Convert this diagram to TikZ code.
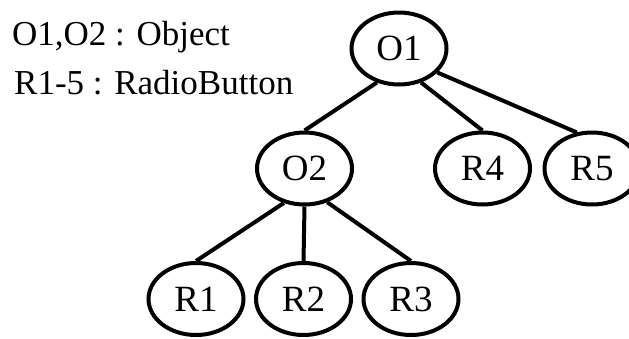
\documentclass[tikz,border=0pt]{standalone}
\usepackage{fontspec}
\setmainfont{Liberation Serif}
\usetikzlibrary{shapes.geometric}
\begin{document}
\begin{tikzpicture}[x=1pt,y=-1pt,
  treenode/.style={draw,ellipse,line width=4pt,minimum width=95pt,minimum height=72pt,inner sep=0pt,font=\fontsize{37}{42}\selectfont},
  legend/.style={anchor=base west,inner sep=0pt,font=\fontsize{35}{40}\selectfont},
  edge/.style={line width=4pt}]
  \useasboundingbox (0,0) rectangle (629,338);
  \begin{scope}
  \clip (0,0) rectangle (629,338);
  % legend
  \node[legend] (l1) at (12,45) {O1,O2 : Object};
  \node[legend] (l2) at (14,94) {R1-5 : RadioButton};
  % tree nodes
  \node[treenode] (o1) at (399,48.5) {O1};
  \node[treenode] (o2) at (304.5,168.5) {O2};
  \node[treenode] (r4) at (482.5,168.5) {R4};
  \node[treenode] (r5) at (592,168.5) {R5};
  \node[treenode] (r1) at (196,299) {R1};
  \node[treenode] (r2) at (303.5,299) {R2};
  \node[treenode] (r3) at (411,299) {R3};
  % edges
  \draw[edge] (o1.237) -- (o2.north);
  \draw[edge] (o1.303) -- (r4.north);
  \draw[edge] (o1.328) -- (r5.113);
  \draw[edge] (o2.239) -- (r1.north);
  \draw[edge] (o2.south) -- (r2.north);
  \draw[edge] (o2.304) -- (r3.north);
  \end{scope}
\end{tikzpicture}
\end{document}
